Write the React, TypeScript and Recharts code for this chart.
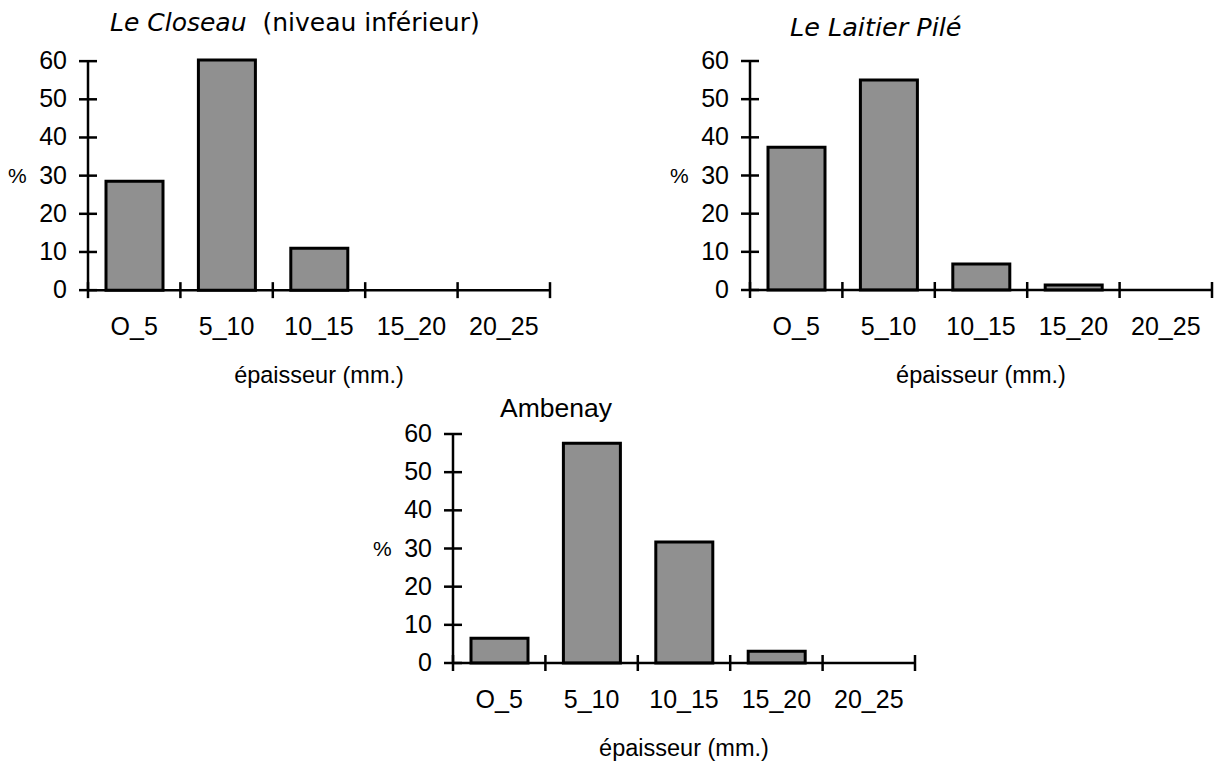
import React from 'react';
import { BarChart, Bar, XAxis, YAxis, Label } from 'recharts';

const categories = ['O_5', '5_10', '10_15', '15_20', '20_25'];
const closeauPct = [28.5, 60.3, 11, 0, 0];
const laitierPct = [37.4, 55, 6.8, 1.3, 0];
const ambenayPct = [6.5, 57.6, 31.7, 3.1, 0];
const yTicks = [0, 10, 20, 30, 40, 50, 60];

const SANS = '"Liberation Sans", Arial, sans-serif';
const GENEVA = '"DejaVu Sans", Verdana, sans-serif';

const PLOT_W = 462;
const PX_PER_UNIT = 229 / 60;
const Y_AXIS_W = 88;
const X_AXIS_H = 110;
const TOP = 20;
const RIGHT = 3;

function Histogram({ values, axisX, zeroY }: { values: number[]; axisX: number; zeroY: number }) {
    const data = categories.map((range, i) => ({ range, pct: values[i] }));
    const yMax = Math.max(60, ...values);
    const plotH = yMax * PX_PER_UNIT;
    const band = PLOT_W / categories.length;

    // ticks cross the axis line, labels sit well left of it
    const renderYTick = (props: any) => {
        const { x, y, payload } = props;
        return (
            <g>
                <line x1={x - 9} x2={x + 9} y1={y} y2={y} stroke="#000" strokeWidth={2.5} />
                <text x={x - 21} y={y + 8} textAnchor="end" fontSize={25} fontFamily={SANS} fill="#000">
                    {payload.value}
                </text>
            </g>
        );
    };

    // tick marks on the category boundaries, label in the middle of the band
    const renderXTick = (props: any) => {
        const { x, y, payload, index } = props;
        return (
            <g>
                <line x1={x - band / 2} x2={x - band / 2} y1={y - 8} y2={y + 8} stroke="#000" strokeWidth={2.5} />
                {index === categories.length - 1 && (
                    <line x1={x + band / 2} x2={x + band / 2} y1={y - 8} y2={y + 8} stroke="#000" strokeWidth={2.5} />
                )}
                <text x={x} y={y + 45} textAnchor="middle" fontSize={25} fontFamily={SANS} fill="#000">
                    {payload.value}
                </text>
            </g>
        );
    };

    return (
        <div style={{ position: 'absolute', left: axisX - Y_AXIS_W, top: zeroY - plotH - TOP }}>
            <BarChart
                width={Y_AXIS_W + PLOT_W + RIGHT}
                height={TOP + plotH + X_AXIS_H}
                data={data}
                margin={{ top: TOP, right: RIGHT, left: 0, bottom: 0 }}
            >
                <XAxis
                    dataKey="range"
                    height={X_AXIS_H}
                    interval={0}
                    tickLine={false}
                    tickSize={0}
                    tickMargin={0}
                    tick={renderXTick}
                    axisLine={{ stroke: '#000', strokeWidth: 2.5 }}
                >
                    <Label value="épaisseur (mm.)" position="insideBottom" offset={17}
                        style={{ fontSize: 23.5, fontFamily: SANS, fill: '#000' }} />
                </XAxis>
                <YAxis
                    width={Y_AXIS_W}
                    type="number"
                    domain={[0, 60]}
                    ticks={yTicks}
                    tickLine={false}
                    tickSize={0}
                    tickMargin={0}
                    tick={renderYTick}
                    axisLine={{ stroke: '#000', strokeWidth: 2.5 }}
                >
                    <Label value="%" position="insideLeft" offset={8}
                        style={{ fontSize: 21, fontFamily: SANS, fill: '#000' }} />
                </YAxis>
                <Bar dataKey="pct" fill="#909090" stroke="#000" strokeWidth={3} barSize={57} isAnimationActive={false} />
            </BarChart>
        </div>
    );
}

export default function App() {
    return (
        <div style={{ position: 'absolute', left: 0, top: 0, width: 1215, height: 764, overflow: 'hidden', background: '#fff' }}>
            <div style={{ position: 'absolute', left: 110, top: 10, fontFamily: GENEVA, fontSize: 25, lineHeight: 1, whiteSpace: 'pre' }}>
                <span style={{ fontStyle: 'italic' }}>Le Closeau</span>{'  (niveau inférieur)'}
            </div>
            <div style={{ position: 'absolute', left: 790, top: 15, fontFamily: GENEVA, fontSize: 25.5, lineHeight: 1, whiteSpace: 'pre', fontStyle: 'italic' }}>
                Le Laitier Pilé
            </div>
            <div style={{ position: 'absolute', left: 500, top: 395, fontFamily: SANS, fontSize: 26.5, lineHeight: 1, whiteSpace: 'pre' }}>
                Ambenay
            </div>
            <Histogram values={closeauPct} axisX={88} zeroY={290} />
            <Histogram values={laitierPct} axisX={750} zeroY={290} />
            <Histogram values={ambenayPct} axisX={453} zeroY={663} />
        </div>
    );
}
